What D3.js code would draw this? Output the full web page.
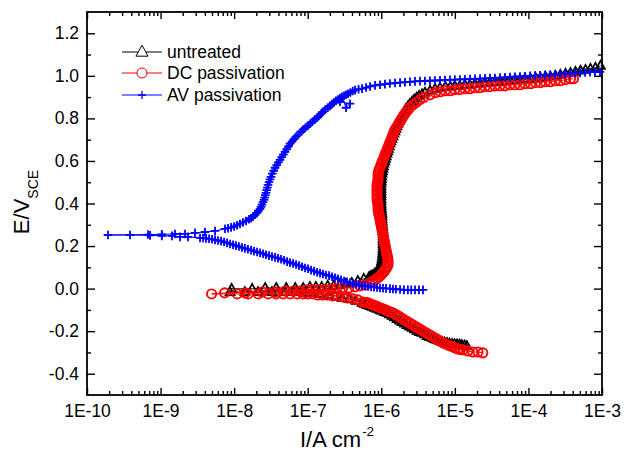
<!DOCTYPE html>
<html><head><meta charset="utf-8">
<script src="https://cdn.jsdelivr.net/npm/d3@7/dist/d3.min.js"></script>
<style>body{margin:0;background:#fff}svg{display:block}</style>
</head><body>
<svg id="c" width="624" height="454"></svg>
<script>
// ---------- data: [I (A cm^-2), E (V vs SCE)] in scan order ----------
const xTickValues = [1e-10, 1e-9, 1e-8, 1e-7, 1e-6, 1e-5, 1e-4, 1e-3];
const xTickLabels = ["1E-10","1E-9","1E-8","1E-7","1E-6","1E-5","1E-4","1E-3"];
const yTickValues = [-0.4,-0.2,0,0.2,0.4,0.6,0.8,1.0,1.2];
const yTickLabels = ["-0.4","-0.2","0.0","0.2","0.4","0.6","0.8","1.0","1.2"];
const yMinorValues = [-0.3,-0.1,0.1,0.3,0.5,0.7,0.9,1.1];
const seriesNames = ["untreated","DC passivation","AV passivation"];

const untreatedData = [
[1.46e-5,-0.270],[1.35e-5,-0.267],[1.25e-5,-0.265],[1.16e-5,-0.263],[1.07e-5,-0.262],[9.90e-6,-0.261],[9.16e-6,-0.260],[8.47e-6,-0.258],[7.83e-6,-0.255],[7.24e-6,-0.253],[6.70e-6,-0.251],[6.19e-6,-0.246],[5.73e-6,-0.241],[5.30e-6,-0.237],[4.90e-6,-0.232],[4.53e-6,-0.227],[4.19e-6,-0.223],[3.87e-6,-0.215],[3.58e-6,-0.208],[3.31e-6,-0.204],[3.06e-6,-0.199],[2.83e-6,-0.192],[2.62e-6,-0.185],[2.42e-6,-0.178],[2.24e-6,-0.171],[2.07e-6,-0.164],[1.91e-6,-0.157],[1.77e-6,-0.150],[1.64e-6,-0.143],[1.51e-6,-0.135],[1.40e-6,-0.128],[1.29e-6,-0.121],[1.20e-6,-0.114],[1.11e-6,-0.110],[1.02e-6,-0.105],[9.47e-7,-0.100],[8.76e-7,-0.095],[8.10e-7,-0.091],[7.49e-7,-0.086],[6.92e-7,-0.081],[6.40e-7,-0.077],[5.92e-7,-0.072],[5.48e-7,-0.067],
[4.54e-7,-0.058],[3.64e-7,-0.048],[2.93e-7,-0.044],[2.35e-7,-0.034],[1.89e-7,-0.030],[1.47e-7,-0.025],[1.14e-7,-0.020],[8.91e-8,-0.020],[6.72e-8,-0.016],[4.92e-8,-0.016],[3.27e-8,-0.016],[2.11e-8,-0.016],[1.40e-8,-0.016],[8.80e-9,-0.016],
[9.24e-9,-0.001],[1.76e-8,-0.001],[2.64e-8,0.003],[3.73e-8,0.003],[5.10e-8,0.003],[6.76e-8,0.003],[8.68e-8,0.003],[1.07e-7,0.008],[1.29e-7,0.008],[1.55e-7,0.008],[1.87e-7,0.013],[2.26e-7,0.013],[2.72e-7,0.017],[3.29e-7,0.022],[3.97e-7,0.027],[4.79e-7,0.036],[5.78e-7,0.046],
[6.82e-7,0.055],[7.26e-7,0.060],[7.73e-7,0.064],[8.23e-7,0.072],[8.76e-7,0.079],[9.18e-7,0.088],[9.62e-7,0.097],[9.77e-7,0.107],[9.93e-7,0.116],
[1.007e-6,0.128],[1.023e-6,0.140],[1.032e-6,0.151],[1.039e-6,0.163],[1.049e-6,0.175],[1.055e-6,0.187],[1.055e-6,0.199],[1.055e-6,0.210],[1.055e-6,0.222],[1.055e-6,0.234],[1.055e-6,0.246],[1.055e-6,0.257],[1.055e-6,0.269],[1.055e-6,0.281],[1.049e-6,0.293],[1.039e-6,0.304],[1.032e-6,0.316],[1.023e-6,0.328],[1.023e-6,0.340],[1.023e-6,0.351],[1.016e-6,0.363],[1.007e-6,0.375],[1.000e-6,0.387],[9.93e-7,0.398],[9.93e-7,0.410],[9.93e-7,0.422],[9.93e-7,0.434],[9.93e-7,0.445],[9.93e-7,0.457],[9.93e-7,0.469],[9.93e-7,0.481],[9.93e-7,0.493],[1.000e-6,0.504],[1.007e-6,0.516],[1.016e-6,0.528],[1.023e-6,0.540],[1.039e-6,0.551],[1.055e-6,0.563],[1.072e-6,0.575],[1.089e-6,0.587],[1.117e-6,0.598],[1.141e-6,0.610],[1.170e-6,0.622],[1.196e-6,0.634],[1.227e-6,0.645],[1.254e-6,0.657],[1.285e-6,0.669],[1.314e-6,0.681],[1.356e-6,0.692],[1.399e-6,0.704],[1.444e-6,0.716],[1.489e-6,0.728],[1.537e-6,0.739],[1.585e-6,0.751],[1.636e-6,0.763],[1.688e-6,0.775],[1.757e-6,0.787],[1.826e-6,0.798],[1.902e-6,0.810],[1.974e-6,0.822],[2.070e-6,0.834],[2.168e-6,0.845],[2.31e-6,0.857],[2.458e-6,0.869],[2.617e-6,0.878],[2.786e-6,0.888],[3.014e-6,0.897],[3.259e-6,0.906],[3.58e-6,0.914],[3.93e-6,0.921],[4.60e-6,0.930],[5.38e-6,0.939],[6.29e-6,0.944],
[7.42e-6,0.949],[8.68e-6,0.949],[1.00e-5,0.953],[1.17e-5,0.953],[1.37e-5,0.958],[1.60e-5,0.958],[1.87e-5,0.963],[2.19e-5,0.963],[2.56e-5,0.968],[2.99e-5,0.968],[3.50e-5,0.972],[4.09e-5,0.972],[4.79e-5,0.977],[5.60e-5,0.977],[6.55e-5,0.982],[7.66e-5,0.982],[8.96e-5,0.986],[1.07e-4,0.986],[1.25e-4,0.991],[1.46e-4,0.991],[1.70e-4,0.996],[1.99e-4,0.996],[2.33e-4,1.000],[2.72e-4,1.005],[3.19e-4,1.010],[3.73e-4,1.014],[4.36e-4,1.019],[5.10e-4,1.024],[5.96e-4,1.028],[6.97e-4,1.033],[8.15e-4,1.038],[9.53e-4,1.047]];

const dcData = [
[2.40e-5,-0.302],[2.06e-5,-0.298],[1.76e-5,-0.298],[1.50e-5,-0.293],[1.29e-5,-0.288],[1.19e-5,-0.286],[1.10e-5,-0.284],[1.02e-5,-0.279],[9.45e-6,-0.274],[8.74e-6,-0.270],[8.08e-6,-0.265],[7.47e-6,-0.260],[6.91e-6,-0.255],[6.39e-6,-0.248],[5.91e-6,-0.241],[5.46e-6,-0.234],[5.05e-6,-0.227],[4.67e-6,-0.220],[4.32e-6,-0.213],[3.99e-6,-0.206],[3.69e-6,-0.199],[3.42e-6,-0.192],[3.16e-6,-0.185],[2.92e-6,-0.178],[2.70e-6,-0.171],[2.50e-6,-0.164],[2.31e-6,-0.157],[2.13e-6,-0.150],[1.97e-6,-0.143],[1.83e-6,-0.135],[1.69e-6,-0.128],[1.56e-6,-0.121],[1.44e-6,-0.114],[1.33e-6,-0.110],[1.23e-6,-0.105],[1.14e-6,-0.100],[1.05e-6,-0.095],[9.77e-7,-0.091],[9.04e-7,-0.086],[8.36e-7,-0.081],[7.73e-7,-0.077],[7.15e-7,-0.072],[6.61e-7,-0.067],[6.11e-7,-0.065],[5.65e-7,-0.063],
[4.79e-7,-0.053],[4.09e-7,-0.048],[3.50e-7,-0.044],[2.99e-7,-0.039],[2.56e-7,-0.034],[2.19e-7,-0.034],[1.87e-7,-0.030],[1.60e-7,-0.030],[1.37e-7,-0.030],[1.17e-7,-0.025],[1.00e-7,-0.025],[8.68e-8,-0.025],[7.19e-8,-0.025],[5.78e-8,-0.025],[4.64e-8,-0.025],[3.73e-8,-0.025],[2.90e-8,-0.025],[2.12e-8,-0.025],[1.55e-8,-0.025],[1.10e-8,-0.025],[4.94e-9,-0.025],
[7.42e-9,-0.020],[1.41e-8,-0.020],[2.40e-8,-0.016],[3.61e-8,-0.016],[4.94e-8,-0.011],[6.35e-8,-0.011],[7.90e-8,-0.011],[9.84e-8,-0.006],[1.17e-7,-0.006],[1.41e-7,-0.006],[1.70e-7,-0.006],[2.06e-7,-0.001],[2.48e-7,-0.001],[2.99e-7,0.003],[3.61e-7,0.003],[4.40e-7,0.008],[5.14e-7,0.013],[6.02e-7,0.017],[7.03e-7,0.027],[7.61e-7,0.034],[8.23e-7,0.041],[8.76e-7,0.048],[9.32e-7,0.055],[9.93e-7,0.064],[1.055e-6,0.074],[1.106e-6,0.083],[1.159e-6,0.093],[1.196e-6,0.102],[1.234e-6,0.111],
[1.234e-6,0.123],[1.234e-6,0.135],[1.215e-6,0.147],[1.196e-6,0.159],[1.177e-6,0.170],[1.159e-6,0.182],[1.141e-6,0.194],[1.123e-6,0.206],[1.106e-6,0.217],[1.089e-6,0.229],[1.072e-6,0.241],[1.055e-6,0.253],[1.039e-6,0.264],[1.023e-6,0.276],[1.007e-6,0.288],[9.93e-7,0.300],[9.77e-7,0.311],[9.62e-7,0.323],[9.47e-7,0.335],[9.32e-7,0.347],[9.18e-7,0.358],[9.04e-7,0.370],[9.04e-7,0.382],[9.04e-7,0.394],[8.90e-7,0.405],[8.76e-7,0.417],[8.76e-7,0.429],[8.76e-7,0.441],[8.76e-7,0.453],[8.76e-7,0.464],[8.76e-7,0.476],[8.76e-7,0.488],[8.90e-7,0.500],[9.04e-7,0.511],[9.04e-7,0.523],[9.04e-7,0.535],[9.18e-7,0.547],[9.32e-7,0.558],[9.62e-7,0.570],[9.93e-7,0.582],[1.023e-6,0.594],[1.055e-6,0.605],[1.089e-6,0.617],[1.123e-6,0.629],[1.159e-6,0.641],[1.196e-6,0.652],[1.234e-6,0.664],[1.273e-6,0.676],[1.314e-6,0.688],[1.356e-6,0.699],[1.399e-6,0.711],[1.444e-6,0.723],[1.489e-6,0.735],[1.537e-6,0.747],[1.61e-6,0.758],[1.69e-6,0.770],[1.77e-6,0.782],[1.85e-6,0.794],[1.94e-6,0.805],[2.04e-6,0.817],[2.17e-6,0.829],[2.31e-6,0.841],[2.46e-6,0.852],[2.70e-6,0.864],[3.01e-6,0.876],[3.36e-6,0.888],[3.81e-6,0.899],[4.59e-6,0.911],[5.43e-6,0.921],[6.35e-6,0.925],
[7.42e-6,0.930],[8.68e-6,0.930],[1.00e-5,0.935],[1.17e-5,0.935],[1.37e-5,0.939],[1.60e-5,0.939],[1.87e-5,0.944],[2.19e-5,0.944],[2.56e-5,0.949],[2.99e-5,0.949],[3.50e-5,0.953],[4.09e-5,0.953],[4.79e-5,0.953],[5.60e-5,0.958],[6.55e-5,0.958],[7.66e-5,0.958],[8.96e-5,0.963],[1.07e-4,0.963],[1.25e-4,0.968],[1.46e-4,0.968],[1.70e-4,0.972],[1.99e-4,0.972],[2.33e-4,0.977],[2.72e-4,0.977],[3.19e-4,0.982],[3.73e-4,0.986],[4.09e-4,0.986]];

const avData = [
[3.69e-6,-0.006],[3.25e-6,-0.006],[2.87e-6,-0.006],[2.55e-6,-0.006],[2.30e-6,-0.006],[2.03e-6,-0.006],[1.80e-6,-0.004],[1.58e-6,-0.003],[1.44e-6,-0.002],[1.31e-6,0.000],[1.16e-6,0.001],[1.055e-6,0.002],
[9.62e-7,0.003],[8.76e-7,0.005],[7.97e-7,0.007],[7.26e-7,0.008],[6.61e-7,0.010],[6.02e-7,0.012],[5.48e-7,0.014],[4.98e-7,0.017],[4.54e-7,0.021],[4.13e-7,0.024],[3.76e-7,0.028],[3.42e-7,0.032],[3.12e-7,0.036],[2.84e-7,0.041],[2.58e-7,0.046],[2.35e-7,0.051],[2.14e-7,0.056],[1.95e-7,0.061],[1.77e-7,0.064],[1.61e-7,0.069],[1.47e-7,0.073],[1.34e-7,0.077],[1.22e-7,0.082],[1.11e-7,0.087],[1.01e-7,0.093],[9.20e-8,0.097],[8.37e-8,0.103],[7.62e-8,0.108],[6.94e-8,0.113],[6.32e-8,0.118],[5.75e-8,0.122],[5.24e-8,0.127],[4.77e-8,0.133],[4.34e-8,0.138],[3.95e-8,0.143],[3.60e-8,0.147],[3.27e-8,0.151],[2.98e-8,0.155],[2.71e-8,0.159],[2.47e-8,0.164],[2.25e-8,0.168],[2.05e-8,0.172],[1.86e-8,0.176],[1.70e-8,0.181],[1.54e-8,0.185],[1.40e-8,0.189],[1.28e-8,0.193],[1.16e-8,0.198],[1.06e-8,0.202],[9.66e-9,0.206],[8.80e-9,0.210],[8.01e-9,0.215],[7.29e-9,0.219],[6.64e-9,0.223],[6.04e-9,0.226],[5.50e-9,0.229],[5.01e-9,0.232],[4.56e-9,0.234],[4.15e-9,0.236],[3.78e-9,0.238],[3.44e-9,0.238],
[2.36e-9,0.243],[1.84e-9,0.243],[1.43e-9,0.248],[1.04e-9,0.248],[7.19e-10,0.250],[3.84e-10,0.252],[1.93e-10,0.252],
[6.75e-10,0.254],[1.04e-9,0.255],[1.57e-9,0.257],[2.15e-9,0.257],[2.94e-9,0.262],[4.01e-9,0.266],[5.50e-9,0.271],
[7.52e-9,0.281],[8.26e-9,0.284],[9.08e-9,0.288],[9.97e-9,0.292],[1.094e-8,0.298],[1.20e-8,0.304],[1.32e-8,0.311],[1.45e-8,0.318],[1.59e-8,0.326],[1.70e-8,0.331],[1.80e-8,0.338],[1.92e-8,0.347],[2.05e-8,0.356],[2.14e-8,0.366],[2.25e-8,0.375],[2.32e-8,0.384],[2.39e-8,0.395],[2.47e-8,0.406],[2.55e-8,0.417],[2.60e-8,0.428],[2.65e-8,0.439],[2.71e-8,0.450],[2.77e-8,0.463],[2.83e-8,0.475],[2.89e-8,0.488],[2.98e-8,0.500],[3.07e-8,0.513],[3.17e-8,0.525],[3.30e-8,0.540],[3.45e-8,0.554],[3.60e-8,0.568],[3.79e-8,0.580],[3.99e-8,0.593],[4.20e-8,0.605],[4.44e-8,0.618],[4.66e-8,0.630],[4.92e-8,0.643],[5.19e-8,0.656],[5.45e-8,0.668],[5.75e-8,0.681],[6.12e-8,0.691],[6.52e-8,0.703],[6.94e-8,0.714],[7.46e-8,0.724],[8.04e-8,0.736],[8.64e-8,0.747],[9.29e-8,0.756],[1.00e-7,0.765],[1.075e-7,0.775],[1.154e-7,0.784],[1.245e-7,0.794],[1.34e-7,0.803],[1.42e-7,0.812],[1.52e-7,0.822],[1.61e-7,0.831],[1.73e-7,0.841],[1.87e-7,0.850],[2.01e-7,0.859],[2.14e-7,0.867],[2.28e-7,0.875],[2.42e-7,0.883],[2.58e-7,0.889],[2.75e-7,0.896],[2.93e-7,0.902],
[3.32e-7,0.850],[3.76e-7,0.869],[2.75e-7,0.878],
[3.12e-7,0.906],[3.32e-7,0.911],[3.53e-7,0.916],[3.80e-7,0.922],[4.09e-7,0.929],[4.40e-7,0.933],[4.91e-7,0.937],[5.48e-7,0.940],[6.21e-7,0.945],[7.03e-7,0.950],[8.23e-7,0.955],[9.62e-7,0.958],
[1.12e-6,0.961],[1.31e-6,0.964],[1.54e-6,0.966],[1.80e-6,0.968],[2.10e-6,0.970],[2.45e-6,0.972],[2.87e-6,0.974],[3.36e-6,0.975],[3.92e-6,0.976],[4.59e-6,0.977],[5.37e-6,0.978],[6.28e-6,0.979],[7.34e-6,0.980],[8.58e-6,0.981],[1.0e-5,0.982],[1.17e-5,0.983],[1.37e-5,0.984],[1.61e-5,0.985],[1.88e-5,0.986],[2.20e-5,0.987],[2.57e-5,0.988],[3.0e-5,0.989],[3.51e-5,0.990],[4.11e-5,0.992],[4.80e-5,0.993],[5.62e-5,0.994],[6.57e-5,0.996],[7.68e-5,0.997],[8.98e-5,0.998],[1.05e-4,1.000],[1.23e-4,1.001],[1.44e-4,1.003],[1.68e-4,1.004],[1.97e-4,1.005],[2.30e-4,1.007],[2.69e-4,1.008],[3.14e-4,1.010],[3.68e-4,1.011],[4.30e-4,1.013],[5.03e-4,1.014],[5.88e-4,1.016],[6.87e-4,1.017],[8.03e-4,1.018],[9.39e-4,1.019]];

// ---------- chart ----------
const FONT = "'Liberation Sans', Arial, Helvetica, sans-serif";
const svg = d3.select("#c");
const L = 87, R = 602, T = 12, B = 395;
const x = d3.scaleLog().domain([1e-10, 1e-3]).range([L, R]);
const y = d3.scaleLinear().domain([-0.5, 1.3]).range([B, T]);

const xMinor = [];
xTickValues.slice(0, -1).forEach(d => { for (let k = 2; k <= 9; k++) xMinor.push(d * k); });

function styleAxis(g) {
  g.select(".domain").remove();
  g.attr("font-family", FONT).attr("font-size", 17.5);
  g.selectAll("line").attr("stroke", "#000").attr("stroke-width", 1.4);
  g.selectAll("text").attr("fill", "#000");
}
svg.append("g").attr("transform", `translate(0,${B})`)
  .call(d3.axisBottom(x).tickValues(xTickValues).tickFormat((d, i) => xTickLabels[i]).tickSize(-7).tickPadding(10)).call(styleAxis);
svg.append("g").attr("transform", `translate(0,${B})`)
  .call(d3.axisBottom(x).tickValues(xMinor).tickFormat("").tickSize(-4)).call(styleAxis);
svg.append("g").attr("transform", `translate(0,${T})`)
  .call(d3.axisTop(x).tickValues(xTickValues).tickFormat("").tickSize(-7)).call(styleAxis);
svg.append("g").attr("transform", `translate(0,${T})`)
  .call(d3.axisTop(x).tickValues(xMinor).tickFormat("").tickSize(-4)).call(styleAxis);
svg.append("g").attr("transform", `translate(${L},0)`)
  .call(d3.axisLeft(y).tickValues(yTickValues).tickFormat((d, i) => yTickLabels[i]).tickSize(-8).tickPadding(8)).call(styleAxis);
svg.append("g").attr("transform", `translate(${L},0)`)
  .call(d3.axisLeft(y).tickValues(yMinorValues).tickFormat("").tickSize(-4)).call(styleAxis);
svg.append("g").attr("transform", `translate(${R},0)`)
  .call(d3.axisRight(y).tickValues(yTickValues).tickFormat("").tickSize(-8)).call(styleAxis);
svg.append("g").attr("transform", `translate(${R},0)`)
  .call(d3.axisRight(y).tickValues(yMinorValues).tickFormat("").tickSize(-4)).call(styleAxis);

svg.append("rect").attr("x", L).attr("y", T).attr("width", R - L).attr("height", B - T)
  .attr("fill", "none").attr("stroke", "#000").attr("stroke-width", 1.8);

const triPath = s => `M0,${-s*0.62}L${s*0.55},${s*0.38}L${-s*0.55},${s*0.38}Z`;
const plusPath = s => `M${-s},0H${s}M0,${-s}V${s}`;
const series = [
  {name: seriesNames[0], data: untreatedData, color: "#000000", kind: "tri"},
  {name: seriesNames[1], data: dcData, color: "#ff0000", kind: "circ"},
  {name: seriesNames[2], data: avData, color: "#0000ff", kind: "plus"}
];
const line = d3.line().x(d => x(d[0])).y(d => y(d[1]));

function drawMarker(g, kind, color, legend) {
  const fill = legend ? "#fff" : "none";
  if (kind === "tri") g.append("path").attr("d", triPath(legend ? 11 : 8)).attr("fill", fill).attr("stroke", color).attr("stroke-width", legend ? 1 : 1.7);
  else if (kind === "circ") g.append("circle").attr("r", legend ? 5 : 4.6).attr("fill", fill).attr("stroke", color).attr("stroke-width", legend ? 1 : 1.9);
  else g.append("path").attr("d", plusPath(legend ? 4 : 4.3)).attr("fill", "none").attr("stroke", color).attr("stroke-width", legend ? 1.3 : 1.8);
}

const plot = svg.append("g");
series.forEach(s => {
  const g = plot.append("g");
  g.append("path").datum(s.data).attr("d", line).attr("fill", "none").attr("stroke", s.color).attr("stroke-width", 1);
  g.selectAll("g.m").data(s.data).join("g").attr("class", "m")
    .attr("transform", d => `translate(${x(d[0])},${y(d[1])})`)
    .each(function () { drawMarker(d3.select(this), s.kind, s.color, false); });
});

const legY = [52, 73, 95];
series.forEach((s, i) => {
  const g = svg.append("g").attr("transform", `translate(0,${legY[i]})`);
  g.append("line").attr("x1", 122).attr("x2", 162).attr("y1", 0).attr("y2", 0).attr("stroke", s.color).attr("stroke-width", 1);
  drawMarker(g.append("g").attr("transform", "translate(142,0)"), s.kind, s.color, true);
  g.append("text").attr("x", 167).attr("y", 0).attr("dy", "0.36em").attr("font-family", FONT).attr("font-size", 17.5).text(s.name);
});

const yt = svg.append("text").attr("transform", "translate(29,202) rotate(-90)").attr("text-anchor", "middle")
  .attr("font-family", FONT).attr("font-size", 22);
yt.append("tspan").text("E/V");
yt.append("tspan").attr("font-size", 14).attr("dy", 9).text("SCE");

const xt = svg.append("text").attr("x", 300).attr("y", 447).attr("font-family", FONT).attr("font-size", 22);
xt.append("tspan").text("I/A cm");
xt.append("tspan").attr("font-size", 13.5).attr("dy", -11).attr("dx", 1).text("-2");
</script>
</body></html>
